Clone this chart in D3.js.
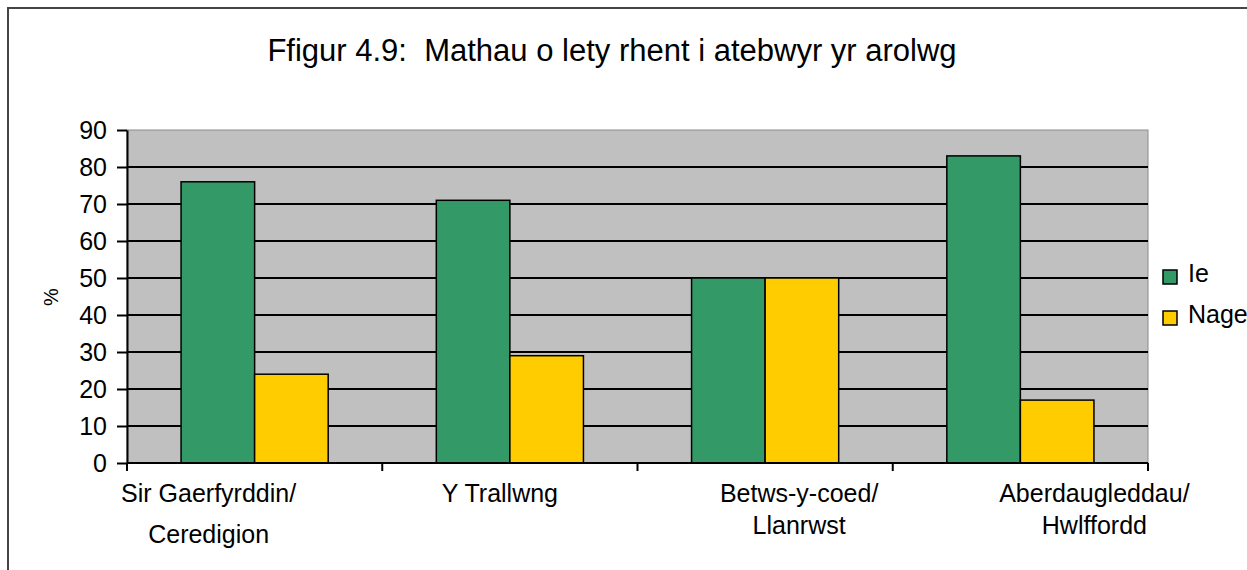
<!DOCTYPE html>
<html>
<head>
<meta charset="utf-8">
<script src="https://cdn.jsdelivr.net/npm/d3@7"></script>
<style>
  body { margin: 0; background: #fff; }
  svg { display: block; font-family: "Liberation Sans", Arial, sans-serif; }
</style>
</head>
<body>
<svg></svg>
<script>
const WIDTH = 1247;
const HEIGHT = 570;

// data
const categories = [
  ['Sir Gaerfyrddin/', 'Ceredigion'],
  ['Y Trallwng'],
  ['Betws-y-coed/', 'Llanrwst'],
  ['Aberdaugleddau/', 'Hwlffordd']
];
const seriesNames = ['Ie', 'Nage'];
const ieValues = [76, 71, 50, 83];
const nageValues = [24, 29, 50, 17];
const yTicks = [0, 10, 20, 30, 40, 50, 60, 70, 80, 90];

const colours = ['#339966', '#ffcc00'];
// the category labels are not centred under their groups in the original
const labelShift = [-46, -10, 34, 74];
const labelGap = [41, 0, 32, 32];

const svg = d3.select('svg').attr('width', WIDTH).attr('height', HEIGHT);

// outer frame
svg.append('rect')
  .attr('x', 8).attr('y', 8)
  .attr('width', 1400).attr('height', 700)
  .attr('fill', 'none')
  .attr('stroke', '#444')
  .attr('stroke-width', 2);

svg.append('text')
  .attr('x', 612).attr('y', 61)
  .attr('text-anchor', 'middle')
  .attr('font-size', 31)
  .style('white-space', 'pre')
  .text('Ffigur 4.9:  Mathau o lety rhent i atebwyr yr arolwg');

const plot = {left: 127, right: 1148, top: 130, bottom: 463};

const keys = categories.map((c, i) => i);
const x0 = d3.scaleBand().domain(keys).range([plot.left, plot.right]);
const x1 = d3.scaleBand().domain(seriesNames).range([0, x0.bandwidth()]).paddingOuter(0.735);
const y = d3.scaleLinear().domain([0, 90]).range([plot.bottom, plot.top]);

svg.append('rect')
  .attr('x', plot.left).attr('y', plot.top)
  .attr('width', plot.right - plot.left).attr('height', plot.bottom - plot.top)
  .attr('fill', '#c0c0c0')
  .attr('stroke', '#8c8c8c')
  .attr('stroke-width', 1);

// gridlines
svg.append('g')
  .selectAll('line')
  .data(yTicks.filter(t => t > 0 && t < 90))
  .join('line')
  .attr('x1', plot.left).attr('x2', plot.right)
  .attr('y1', d => y(d)).attr('y2', d => y(d))
  .attr('stroke', '#000')
  .attr('stroke-width', 2);

const rows = keys.map(i => ({i, values: [ieValues[i], nageValues[i]]}));

svg.append('g')
  .selectAll('g')
  .data(rows)
  .join('g')
  .attr('transform', d => `translate(${x0(d.i)},0)`)
  .selectAll('rect')
  .data(d => d.values.map((v, s) => ({s, v})))
  .join('rect')
  .attr('x', d => x1(seriesNames[d.s]))
  .attr('y', d => y(d.v))
  .attr('width', x1.bandwidth())
  .attr('height', d => y(0) - y(d.v))
  .attr('fill', d => colours[d.s])
  .attr('stroke', '#000')
  .attr('stroke-width', 1.5);

// y axis
const yAxis = svg.append('g')
  .attr('transform', `translate(${plot.left},0)`)
  .call(d3.axisLeft(y).tickValues(yTicks).tickSize(10).tickPadding(10).tickSizeOuter(0));
yAxis.select('.domain').attr('stroke', '#000').attr('stroke-width', 2);
yAxis.selectAll('.tick line').attr('stroke', '#000').attr('stroke-width', 2);
yAxis.selectAll('.tick text')
  .attr('font-size', 25)
  .attr('font-family', '"Liberation Sans", Arial, sans-serif')
  .attr('fill', '#000');

// x axis
svg.append('line')
  .attr('x1', plot.left).attr('x2', plot.right)
  .attr('y1', plot.bottom).attr('y2', plot.bottom)
  .attr('stroke', '#000').attr('stroke-width', 2);
const bounds = keys.map(i => x0(i)).concat([plot.right]);
svg.append('g')
  .selectAll('line')
  .data(bounds)
  .join('line')
  .attr('x1', d => d).attr('x2', d => d)
  .attr('y1', plot.bottom).attr('y2', plot.bottom + 8)
  .attr('stroke', '#000').attr('stroke-width', 2);

svg.append('g')
  .selectAll('text')
  .data(rows)
  .join('text')
  .attr('text-anchor', 'middle')
  .attr('font-size', 25)
  .attr('transform', d => `translate(${x0(d.i) + x0.bandwidth() / 2 + labelShift[d.i]},502)`)
  .selectAll('tspan')
  .data(d => categories[d.i].map((t, k) => ({t, k, gap: labelGap[d.i]})))
  .join('tspan')
  .attr('x', 0)
  .attr('y', d => d.k * d.gap)
  .text(d => d.t);

// y title
svg.append('text')
  .attr('transform', 'translate(58,297) rotate(-90)')
  .attr('text-anchor', 'middle')
  .attr('font-size', 20)
  .text('%');

// legend
const legend = svg.append('g')
  .selectAll('g')
  .data(seriesNames)
  .join('g')
  .attr('transform', (d, i) => `translate(1163,${270 + i * 41})`);
legend.append('rect')
  .attr('width', 14).attr('height', 14)
  .attr('fill', (d, i) => colours[i])
  .attr('stroke', '#000').attr('stroke-width', 1.5);
legend.append('text')
  .attr('x', 25).attr('y', 12)
  .attr('font-size', 25)
  .text(d => d);
</script>
</body>
</html>
